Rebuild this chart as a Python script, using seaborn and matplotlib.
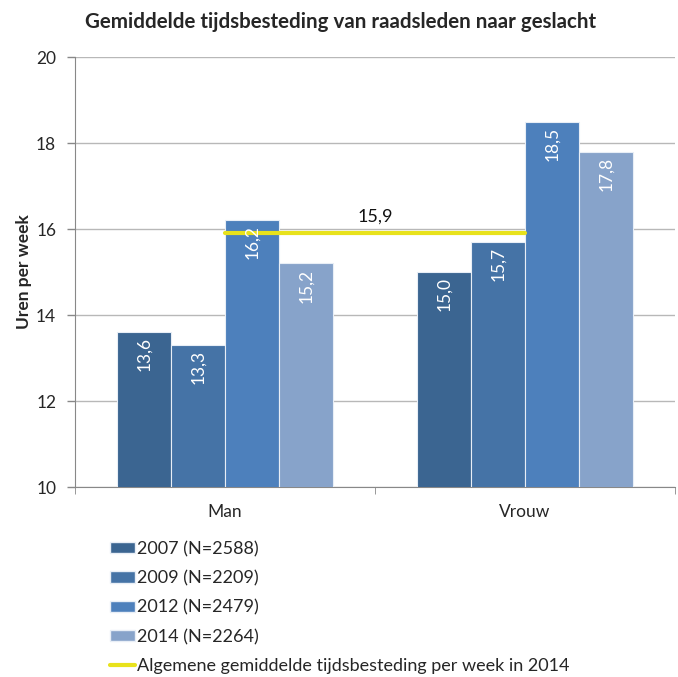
import pandas as pd
import numpy as np
import matplotlib.pyplot as plt
import matplotlib.patches as mpatches
import matplotlib.lines as mlines
import seaborn as sns

# Data
geslacht = ['Man', 'Vrouw']
jaren = ['2007 (N=2588)', '2009 (N=2209)', '2012 (N=2479)', '2014 (N=2264)']
uren_man = [13.6, 13.3, 16.2, 15.2]
uren_vrouw = [15.0, 15.7, 18.5, 17.8]
gemiddelde_2014 = 15.9
kleuren = ['#3B6591', '#4573A6', '#4D80BC', '#87A3CA']

df = pd.DataFrame({
    'geslacht': np.repeat(geslacht, len(jaren)),
    'jaar': jaren * len(geslacht),
    'uren': uren_man + uren_vrouw,
})

sns.set_style('white')
plt.rcParams['font.family'] = ['Lato', 'DejaVu Sans']

fig = plt.figure(figsize=(6.78, 6.77), dpi=100)
ax = fig.add_axes([0.1106, 0.2806, 0.885, 0.6352])

sns.barplot(data=df, x='geslacht', y='uren', hue='jaar', palette=kleuren,
            width=0.72, gap=0, edgecolor='#E8EEF6', linewidth=0.8,
            saturation=1, legend=False, ax=ax, zorder=3)

# Value labels inside the bars, rotated
for container in ax.containers:
    for bar in container:
        h = bar.get_height()
        ax.text(bar.get_x() + bar.get_width() / 2, h - 0.12,
                f'{h:.1f}'.replace('.', ','), rotation=90, ha='center', va='top',
                color='white', fontsize=12.5, zorder=5)

# Overall average line between the two groups
ax.plot([0, 1], [gemiddelde_2014, gemiddelde_2014], color='#E8E21C', lw=3, zorder=4)
ax.text(0.5, gemiddelde_2014 + 0.2, f'{gemiddelde_2014:.1f}'.replace('.', ','),
        ha='center', va='bottom', fontsize=13, color='#111111', zorder=5)

ax.set_ylim(10, 20)
ax.set_xlim(-0.5, 1.5)
ax.set_yticks([10, 12, 14, 16, 18, 20])
ax.yaxis.grid(True, color='#B8B8B8', lw=1, zorder=0)
ax.tick_params(axis='y', labelsize=12.5, length=5.5, width=1, color='#888888',
               direction='out', left=True, pad=8)
ax.tick_params(axis='x', labelsize=12.5, length=0, pad=12)
ax.set_xticks([-0.5, 0.5, 1.5], minor=True)
ax.tick_params(axis='x', which='minor', length=5, color='#888888',
               direction='out', bottom=True)
for s in ['top', 'right']:
    ax.spines[s].set_visible(False)
for s in ['left', 'bottom']:
    ax.spines[s].set_color('#888888')
ax.set_xlabel('')
ax.set_ylabel('Uren per week', fontsize=12.5, fontweight='bold', labelpad=3)

fig.text(0.125, 0.9675, 'Gemiddelde tijdsbesteding van raadsleden naar geslacht',
         fontsize=14.8, fontweight='bold', va='center', ha='left')

# Legend below the chart
handles = [mpatches.Patch(facecolor=c, edgecolor='#E8EEF6') for c in kleuren]
handles.append(mlines.Line2D([], [], color='#E8E21C', lw=3))
labels = jaren + ['Algemene gemiddelde tijdsbesteding per week in 2014']
fig.legend(handles, labels, loc='upper left', bbox_to_anchor=(0.162, 0.201),
           frameon=False, fontsize=13, handlelength=1.4, handleheight=0.6,
           handletextpad=0.12, labelspacing=0.73, borderaxespad=0, borderpad=0)

fig.savefig('out.png', dpi=100)
